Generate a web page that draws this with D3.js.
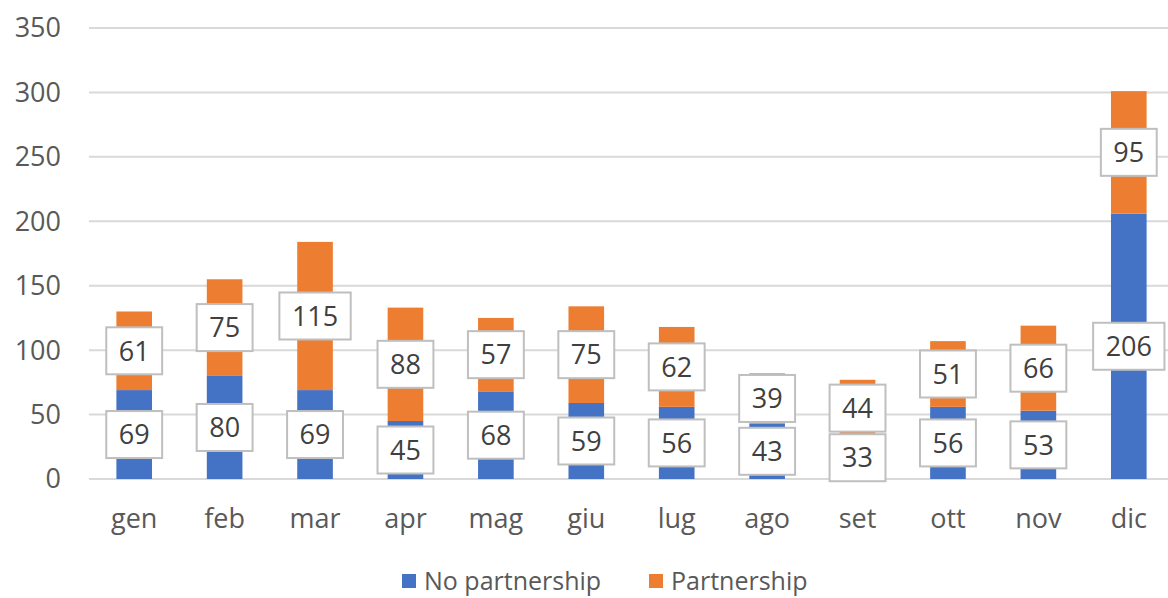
<!DOCTYPE html>
<html>
<head>
<meta charset="utf-8">
<script src="https://cdn.jsdelivr.net/npm/d3@7"></script>
<style>
  body { margin: 0; background: #fff; }
  svg text { font-family: "Open Sans", "Liberation Sans", sans-serif; }
</style>
</head>
<body>
<script>
'use strict'
const months = ["gen", "feb", "mar", "apr", "mag", "giu", "lug", "ago", "set", "ott", "nov", "dic"];
const noPartnership = [69, 80, 69, 45, 68, 59, 56, 43, 33, 56, 53, 206];
const partnership = [61, 75, 115, 88, 57, 75, 62, 39, 44, 51, 66, 95];
const seriesNames = ["No partnership", "Partnership"];
const yTicks = [0, 50, 100, 150, 200, 250, 300, 350];

const width = 1168, height = 598;
const colors = ["#4472C4", "#ED7D31"];
const textColor = "#595959";

const svg = d3.select("body").append("svg")
    .attr("width", width)
    .attr("height", height);

const x = d3.scaleBand()
    .domain(months)
    .range([89, 1174])
    .paddingInner(0.606)
    .paddingOuter(0.303);

const y = d3.scaleLinear()
    .domain([0, 350])
    .range([479, 28]);

// gridlines
svg.append("g")
    .selectAll("line")
    .data(yTicks)
    .enter()
    .append("line")
    .attr("x1", 89)
    .attr("x2", width)
    .attr("y1", d => y(d))
    .attr("y2", d => y(d))
    .attr("stroke", "#d9d9d9")
    .attr("stroke-width", 2);

// y axis labels
svg.append("g")
    .selectAll("text")
    .data(yTicks)
    .enter()
    .append("text")
    .attr("x", 61)
    .attr("y", d => y(d))
    .attr("dy", "0.35em")
    .attr("text-anchor", "end")
    .attr("font-size", "27px")
    .attr("fill", textColor)
    .text(d => d);

// stacked data
const table = months.map((m, i) => ({ month: m, a: noPartnership[i], b: partnership[i] }));
const stack = d3.stack().keys(["a", "b"])(table);

const layers = svg.append("g")
    .selectAll("g")
    .data(stack)
    .enter()
    .append("g")
    .attr("fill", (d, i) => colors[i]);

layers.selectAll("rect")
    .data(d => d)
    .enter()
    .append("rect")
    .attr("x", d => x(d.data.month))
    .attr("width", x.bandwidth())
    .attr("y", d => y(d[1]))
    .attr("height", d => y(d[0]) - y(d[1]));

// data labels in boxes
const labels = svg.append("g")
    .selectAll("g")
    .data(stack.flatMap(s => s.map(d => ({ month: d.data.month, v: d[1] - d[0], mid: (d[0] + d[1]) / 2 }))))
    .enter()
    .append("g")
    .attr("transform", d => "translate(" + (x(d.month) + x.bandwidth() / 2) + "," + y(d.mid) + ")");

labels.append("rect")
    .attr("fill", "#fff")
    .attr("stroke", "#bfbfbf")
    .attr("stroke-width", 2);

labels.append("text")
    .attr("text-anchor", "middle")
    .attr("dy", "0.36em")
    .attr("font-size", "27px")
    .attr("fill", "#404040")
    .text(d => d.v);

labels.each(function() {
    const g = d3.select(this);
    const w = g.select("text").node().getComputedTextLength() + 25;
    const h = 47;
    g.select("rect")
        .attr("x", -w / 2)
        .attr("y", -h / 2)
        .attr("width", w)
        .attr("height", h);
});

// x axis labels
svg.append("g")
    .selectAll("text")
    .data(months)
    .enter()
    .append("text")
    .attr("x", d => x(d) + x.bandwidth() / 2)
    .attr("y", 519)
    .attr("dy", "0.35em")
    .attr("text-anchor", "middle")
    .attr("font-size", "27px")
    .attr("fill", textColor)
    .text(d => d);

// legend
const legendX = [402, 649];
const legend = svg.append("g")
    .selectAll("g")
    .data(seriesNames)
    .enter()
    .append("g")
    .attr("transform", (d, i) => "translate(" + legendX[i] + ",581)");

legend.append("rect")
    .attr("x", 0)
    .attr("y", -7)
    .attr("width", 14)
    .attr("height", 14)
    .attr("fill", (d, i) => colors[i]);

legend.append("text")
    .attr("x", 22)
    .attr("dy", "0.35em")
    .attr("font-size", "25px")
    .attr("fill", textColor)
    .text(d => d);
</script>
</body>
</html>
